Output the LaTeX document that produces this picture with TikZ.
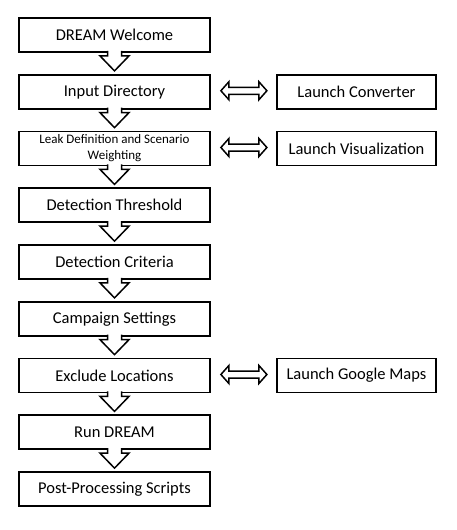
\documentclass[tikz,border=0pt]{standalone}
\usepackage{fontspec}
\setmainfont{Carlito}
\usetikzlibrary{calc}
\tikzset{
  lbox/.style={draw, line width=1.8pt, minimum width=191pt, minimum height=34pt, inner sep=0pt, align=center, font=\fontsize{16.5}{19}\selectfont},
  rbox/.style={draw, line width=1.8pt, minimum width=159pt, minimum height=34pt, inner sep=0pt, align=center, font=\fontsize{16.5}{19}\selectfont},
  blockarrow/.style={draw, fill=white, line width=1.5pt, line join=miter},
}
\newcommand\dnarrow[1]{%
  \draw[blockarrow] ($(#1.south)+(-7,-2)$) -- ++(0,5) -- ++(-7.5,0) -- ++(14.5,15) -- ++(14.5,-15) -- ++(-7.5,0) -- ++(0,-5);}
\newcommand\dblarrow[2]{%
  \draw[blockarrow] ($(#1.east)+(10,-1)$) -- ++(8,-9) -- ++(0,5.5) -- ++(30,0) -- ++(0,-5.5) -- ++(8,9) -- ++(-8,9) -- ++(0,-5.5) -- ++(-30,0) -- ++(0,5.5) -- cycle;}
\begin{document}
\begin{tikzpicture}[x=1pt,y=-1pt]
\useasboundingbox[fill=white] (0,0) rectangle (456,530);
\node[lbox] (b0) at (114.5,35) {DREAM Welcome};
\node[lbox] (b1) at (114.5,91.75) {Input Directory};
\node[lbox, font=\fontsize{13}{16}\selectfont] (b2) at (114.5,148.5) {Leak Definition and Scenario\\Weighting};
\node[lbox] (b3) at (114.5,205.25) {Detection Threshold};
\node[lbox] (b4) at (114.5,262) {Detection Criteria};
\node[lbox] (b5) at (114.5,318.75) {Campaign Settings};
\node[lbox] (b6) at (114.5,375.5) {Exclude Locations};
\node[lbox] (b7) at (114.5,432.25) {Run DREAM};
\node[lbox] (b8) at (114.5,489) {Post-Processing Scripts};
\node[rbox] (r1) at (356.5,91.75) {Launch Converter};
\node[rbox] (r2) at (356.5,148.5) {Launch Visualization};
\node[rbox] (r6) at (356.5,375.5) {Launch Google Maps};
\foreach \n in {b0,b1,b2,b3,b4,b5,b6,b7} {\dnarrow{\n}}
\dblarrow{b1}{r1}
\dblarrow{b2}{r2}
\dblarrow{b6}{r6}
\end{tikzpicture}
\end{document}
